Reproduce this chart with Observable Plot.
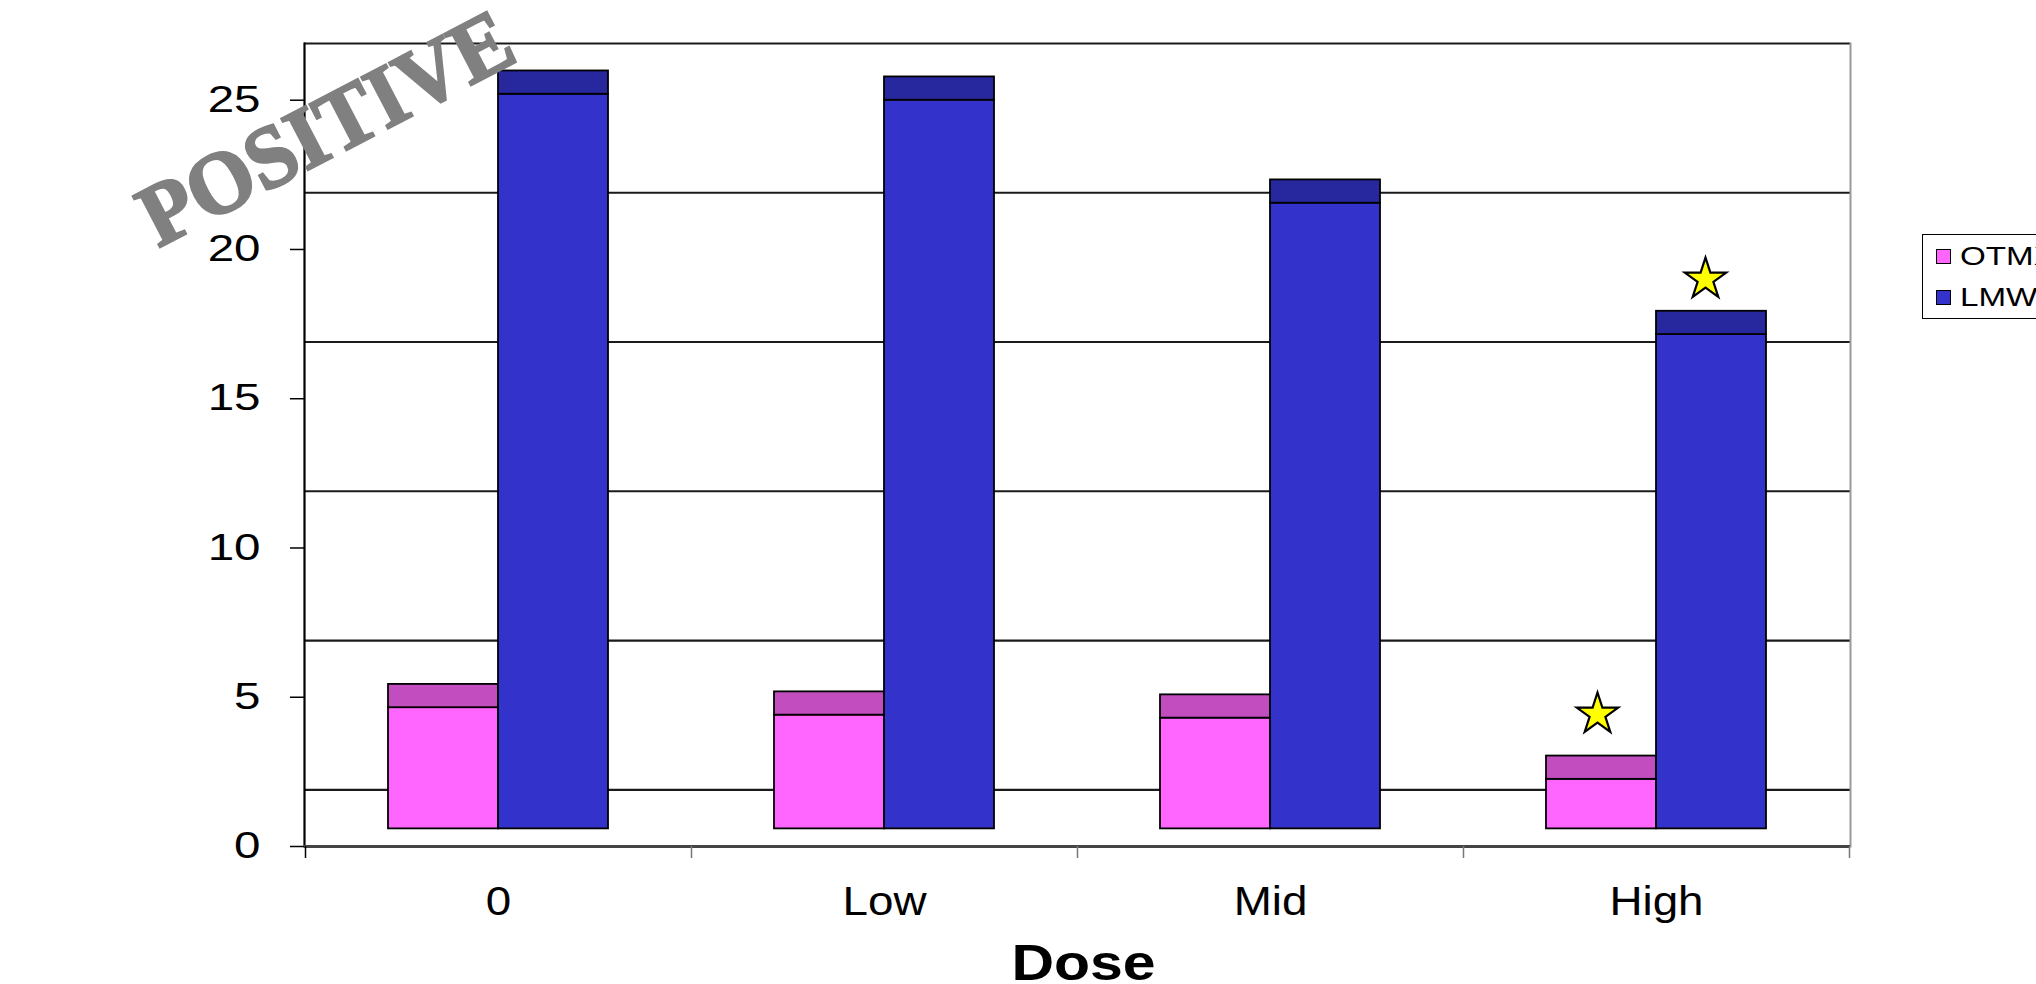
<!DOCTYPE html>
<html>
<head>
<meta charset="utf-8">
<script src="https://cdn.jsdelivr.net/npm/d3@7"></script>
<script src="https://cdn.jsdelivr.net/npm/@observablehq/plot@0.6"></script>
<style>
html, body { margin: 0; padding: 0; background: #fff; }
body { width: 2036px; height: 984px; overflow: hidden; position: relative; font-family: "Liberation Sans", Arial, sans-serif; }
#chart { position: absolute; left: 0; top: 0; }
#legend { position: absolute; left: 1922px; top: 234px; width: 200px; height: 85px; border: 1.5px solid #000; box-sizing: border-box; background: #fff; }
.item { position: absolute; left: 13px; height: 24px; display: flex; align-items: center; font-size: 25.5px; color: #000; white-space: nowrap; }
.sw { width: 13px; height: 13px; border: 1.5px solid #000; margin-right: 9px; flex: none; }
.lbl { display: inline-block; transform: scaleX(1.3); transform-origin: left center; }
#stamp { position: absolute; left: 50px; top: 76px; width: 560px; height: 120px; line-height: 120px; text-align: center;
  font: bold 88px "Liberation Serif", "DejaVu Serif", serif; color: #808080; -webkit-text-stroke: 2.5px #808080;
  transform: rotate(-27.5deg) scaleX(0.97); transform-origin: center; white-space: nowrap; }
</style>
</head>
<body>
<div id="chart"></div>
<div id="legend"></div>
<div id="stamp">POSITIVE</div>
<script>
// ---- data ----
const doses = ["0", "Low", "Mid", "High"];
const otmx = [4.65, 4.4, 4.3, 2.25];
const lmw = [25.2, 25.0, 21.55, 17.15];
const seriesNames = ["OTMX", "LMW"];
const yTicks = [0, 5, 10, 15, 20, 25];
const starDose = ["High", "High"];
const starSeries = ["OTMX", "LMW"];
const starValue = [4.43, 19.0];

// ---- styles ----
const fillColors = {OTMX: "#FF66FF", LMW: "#3333CC"};
const capColors = {OTMX: "#C24DBF", LMW: "#28289E"};
const base = 0.59, capDepth = 0.78, wallOffset = 1.9;

const rowsO = doses.map((d, i) => ({dose: d, series: "OTMX", value: otmx[i]}));
const rowsL = doses.map((d, i) => ({dose: d, series: "LMW", value: lmw[i]}));
const stars = starDose.map((d, i) => ({dose: d, series: starSeries[i], value: starValue[i]}));

const barStyle = {stroke: "#000", strokeWidth: 1.8};

const plot = Plot.plot({
  width: 2036,
  height: 984,
  marginLeft: 304,
  marginRight: 186,
  marginTop: 43,
  marginBottom: 138,
  style: {fontFamily: "Liberation Sans, Arial, sans-serif", background: "transparent", overflow: "visible"},
  x: {type: "band", domain: doses, padding: 0, label: null},
  y: {domain: [0, 25 + wallOffset], label: null},
  marks: [
    // back-wall gridlines (offset upward, as in the 3-D chart)
    Plot.ruleY(yTicks, {y: d => d + wallOffset, stroke: "#1a1a1a", strokeWidth: 2.2}),
    Plot.frame({anchor: "right", stroke: "#9a9a9a", strokeWidth: 2}),
    Plot.frame({anchor: "left", stroke: "#000", strokeWidth: 2.2}),
    // OTMX bars
    Plot.barY(rowsO, {x: "dose", y1: base, y2: "value", fill: fillColors.OTMX, insetLeft: 83, insetRight: 193, ...barStyle}),
    Plot.barY(rowsO, {x: "dose", y1: "value", y2: d => d.value + capDepth, fill: capColors.OTMX, insetLeft: 83, insetRight: 193, ...barStyle}),
    // LMW bars
    Plot.barY(rowsL, {x: "dose", y1: base, y2: "value", fill: fillColors.LMW, insetLeft: 193, insetRight: 83, ...barStyle}),
    Plot.barY(rowsL, {x: "dose", y1: "value", y2: d => d.value + capDepth, fill: capColors.LMW, insetLeft: 193, insetRight: 83, ...barStyle}),
    // significance stars
    Plot.dot(stars.filter(s => s.series === "OTMX"), {x: "dose", y: "value", symbol: "star", r: 13, fill: "#FFFF00", stroke: "#000", strokeWidth: 2.2, dx: -59}),
    Plot.dot(stars.filter(s => s.series === "LMW"), {x: "dose", y: "value", symbol: "star", r: 13, fill: "#FFFF00", stroke: "#000", strokeWidth: 2.2, dx: 49}),
    // axis line
    Plot.ruleY([0], {stroke: "#444", strokeWidth: 3}),
    // y axis
    Plot.axisY(yTicks, {tickSize: 14, tickPadding: 30, fontSize: 36, stroke: "#000", strokeWidth: 1.5, label: null}),
    // x axis boundary ticks
    Plot.axisX({tickSize: 12, dx: 193, tickFormat: () => "", stroke: "#777", strokeWidth: 1.5, label: null}),
    Plot.axisX({ticks: [doses[0]], tickSize: 12, dx: -193, tickFormat: () => "", stroke: "#000", strokeWidth: 1.5, label: null}),
    // x labels
    Plot.axisX({tickSize: 0, tickPadding: 40, fontSize: 40.5, label: null}),
    Plot.text(["Dose"], {frameAnchor: "bottom", dy: 133, dx: 6, fontSize: 50, fontWeight: "bold", className: "dose-label"})
  ]
});
document.getElementById("chart").append(plot);

function stretch(selector, k) {
  plot.querySelectorAll(selector).forEach(t => {
    const L = t.getComputedTextLength();
    if (L > 0) { t.setAttribute("textLength", L * k); t.setAttribute("lengthAdjust", "spacingAndGlyphs"); }
  });
}
stretch('g[aria-label="y-axis tick label"] text', 1.32);
stretch('g[aria-label="x-axis tick label"] text', 1.13);
stretch('g.dose-label text', 1.18);

// legend
const legend = document.getElementById("legend");
seriesNames.forEach((s, i) => {
  const it = document.createElement("div");
  it.className = "item";
  it.style.top = (9 + i * 41) + "px";
  it.innerHTML = `<span class="sw" style="background:${fillColors[s]}"></span><span class="lbl">${s}</span>`;
  legend.append(it);
});
</script>
</body>
</html>
